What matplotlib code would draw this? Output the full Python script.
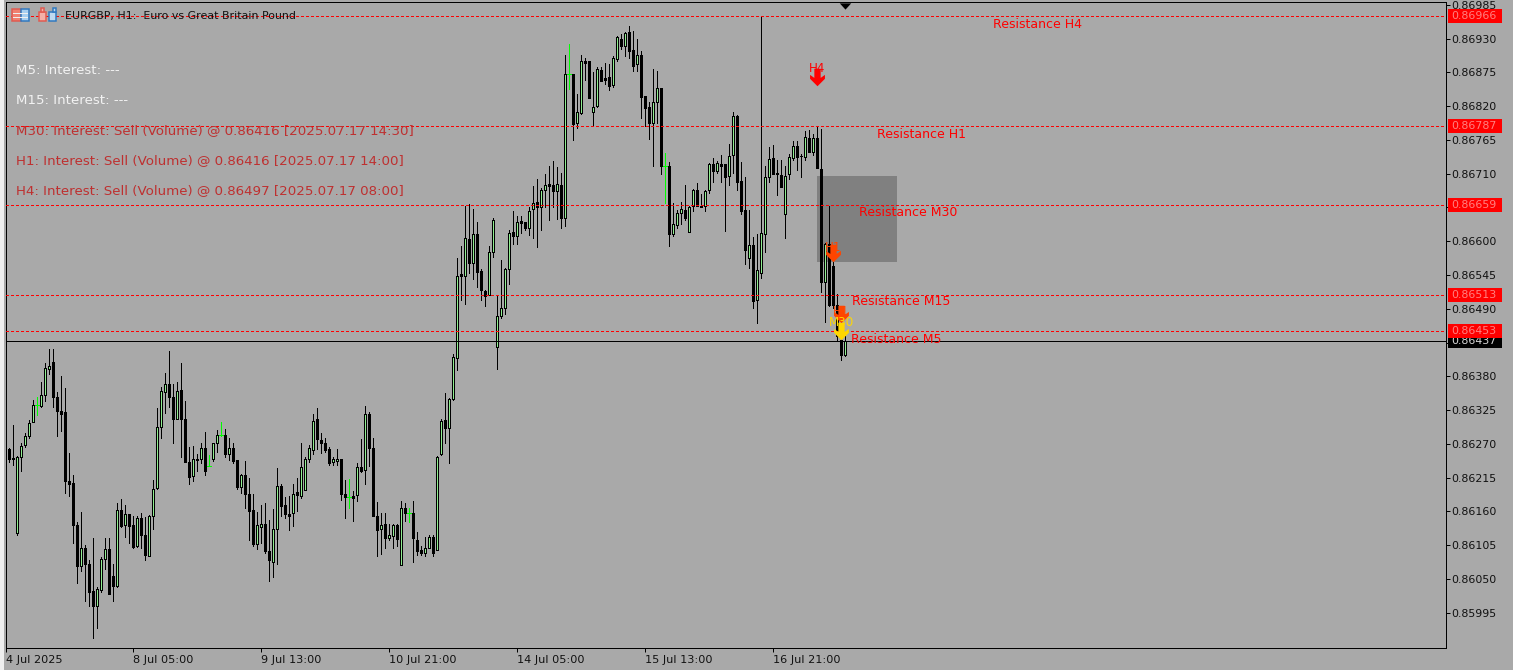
import matplotlib
matplotlib.use("Agg")
import matplotlib.pyplot as plt
from matplotlib.patches import Rectangle
from matplotlib.path import Path
from matplotlib.collections import LineCollection
from matplotlib.transforms import blended_transform_factory
import numpy as np

W, H = 1513, 670
BG = "#A9A9A9"

# OHLC in points (1e-5)
opens = [
 86262,86261,86247,86125,86248,86268,86283,86305,86333,86332,
 86350,86392,86403,86346,86324,86322,86209,86206,86137,86071,
 86101,86075,86030,86006,86032,86082,86098,86054,86038,86163,
 86137,86155,86137,86103,86150,86122,86088,86152,86198,86298,
 86355,86367,86346,86311,86357,86311,86241,86217,86245,86246,
 86264,86234,86246,86271,86284,86285,86253,86264,86243,86200,
 86220,86189,86162,86107,86135,86139,86095,86078,86131,86202,
 86170,86156,86158,86192,86185,86195,86246,86260,86310,86277,
 86272,86261,86241,86242,86245,86188,86183,86185,86186,86232,
 86227,86318,86264,86153,86132,86139,86116,86120,86137,86073,
 86165,86157,86158,86114,86097,86093,86101,86119,86097,86253,
 86309,86296,86343,86410,86546,86544,86603,86565,86611,86551,
 86519,86513,86583,86428,86479,86492,86554,86615,86609,86633,
 86631,86622,86653,86664,86655,86684,86693,86691,86682,86691,
 86637,86872,86872,86793,86808,86893,86893,86811,86820,86879,
 86866,86867,86854,86896,86930,86918,86941,86911,86888,86903,
 86836,86818,86793,86827,86849,86722,86723,86611,86626,86646,
 86651,86615,86657,86683,86658,86658,86683,86725,86714,86726,
 86725,86707,86740,86804,86698,86651,86572,86594,86504,86549,
 86612,86705,86735,86711,86708,86644,86709,86736,86755,86739,
 86737,86768,86746,86768,86718,86534,86595,86560,86496,86439,86415]
closes = [
 86261,86246,86246,86249,86267,86283,86304,86333,86333,86350,
 86393,86396,86347,86324,86319,86210,86205,86137,86071,86101,
 86075,86029,86006,86033,86082,86098,86026,86039,86163,86136,
 86155,86136,86102,86150,86122,86089,86152,86197,86298,86356,
 86368,86347,86311,86356,86310,86241,86216,86246,86244,86263,
 86226,86234,86271,86285,86284,86254,86264,86242,86200,86220,
 86189,86160,86107,86137,86140,86095,86080,86131,86202,86169,
 86156,86153,86189,86186,86233,86245,86263,86308,86278,86272,
 86260,86239,86245,86246,86189,86183,86183,86182,86232,86226,
 86318,86264,86153,86130,86138,86116,86122,86137,86115,86166,
 86158,86157,86117,86095,86092,86101,86119,86092,86249,86307,
 86296,86343,86411,86544,86543,86605,86565,86611,86550,86520,
 86510,86583,86634,86479,86491,86554,86614,86609,86632,86630,
 86621,86650,86663,86655,86684,86691,86690,86682,86693,86637,
 86872,86872,86791,86810,86893,86891,86834,86819,86880,86861,
 86863,86853,86898,86932,86918,86939,86910,86885,86903,86835,
 86817,86793,86827,86849,86722,86722,86611,86628,86646,86652,
 86638,86656,86683,86657,86656,86682,86726,86714,86727,86722,
 86705,86739,86804,86696,86650,86585,86594,86502,86553,86613,
 86704,86734,86709,86709,86689,86707,86737,86755,86737,86738,
 86770,86746,86768,86720,86534,86595,86496,86496,86445,86415,86437]
highs = [
 86263,86263,86301,86250,86272,86288,86309,86341,86346,86371,
 86402,86424,86424,86355,86381,86361,86255,86219,86142,86159,
 86105,86081,86116,86037,86086,86116,86117,86074,86173,86180,
 86170,86156,86152,86152,86158,86151,86154,86211,86328,86363,
 86385,86421,86368,86370,86402,86340,86265,86266,86254,86271,
 86289,86252,86272,86292,86306,86294,86279,86272,86243,86221,
 86242,86214,86188,86159,86170,86173,86146,86164,86230,86204,
 86184,86185,86204,86215,86271,86249,86268,86318,86328,86287,
 86280,86265,86249,86261,86245,86211,86212,86193,86239,86278,
 86331,86322,86279,86176,86157,86158,86140,86140,86139,86177,
 86173,86165,86177,86126,86103,86119,86122,86121,86250,86310,
 86352,86345,86416,86572,86592,86657,86661,86652,86631,86554,
 86520,86592,86637,86513,86569,86556,86618,86649,86641,86641,
 86632,86655,86690,86701,86686,86709,86723,86731,86721,86711,
 86903,86921,86873,86839,86903,86898,86893,86875,86883,86883,
 86890,86888,86901,86935,86937,86941,86950,86943,86929,86909,
 86836,86826,86880,86878,86849,86744,86729,86663,86651,86664,
 86691,86657,86685,86694,86677,86684,86727,86735,86730,86740,
 86725,86759,86810,86806,86729,86704,86651,86607,86612,86966,
 86723,86753,86757,86733,86733,86722,86742,86764,86764,86742,
 86779,86781,86775,86786,86783,86597,86658,86566,86514,86472,86445]
lows = [
 86261,86241,86235,86121,86225,86265,86280,86305,86317,86330,
 86340,86383,86330,86283,86291,86190,86185,86109,86044,86063,
 86014,86006,85954,85970,86029,86066,86026,86014,86037,86135,
 86119,86109,86101,86102,86101,86081,86088,86132,86197,86280,
 86321,86330,86272,86310,86249,86241,86205,86210,86226,86239,
 86220,86234,86242,86257,86282,86249,86243,86239,86197,86190,
 86166,86113,86103,86098,86109,86093,86047,86053,86075,86152,
 86150,86130,86136,86160,86182,86195,86241,86254,86261,86255,
 86256,86235,86236,86236,86178,86150,86166,86144,86177,86224,
 86205,86234,86153,86088,86090,86101,86113,86100,86103,86073,
 86144,86143,86078,86089,86089,86087,86100,86087,86097,86252,
 86272,86239,86341,86390,86504,86498,86549,86538,86526,86505,
 86494,86513,86575,86392,86475,86482,86530,86595,86596,86613,
 86619,86610,86606,86591,86618,86655,86634,86656,86636,86622,
 86625,86848,86765,86785,86807,86863,86833,86787,86819,86861,
 86856,86846,86851,86894,86913,86902,86898,86877,86877,86801,
 86788,86767,86722,86792,86709,86662,86593,86608,86621,86628,
 86635,86615,86650,86657,86655,86650,86679,86696,86711,86696,
 86616,86692,86711,86684,86645,86563,86556,86492,86466,86540,
 86583,86697,86709,86675,86689,86606,86701,86733,86716,86705,
 86733,86745,86741,86720,86518,86468,86494,86492,86438,86406,86413]

date_ticks = [0, 32, 64, 96, 128, 160, 192]
date_labels = ["4 Jul 2025", "8 Jul 05:00", "9 Jul 13:00", "10 Jul 21:00",
               "14 Jul 05:00", "15 Jul 13:00", "16 Jul 21:00"]
price_ticks = [0.86985, 0.86930, 0.86875, 0.86820, 0.86765, 0.86710, 0.86655, 0.86600,
               0.86545, 0.86490, 0.86435, 0.86380, 0.86325, 0.86270, 0.86215, 0.86160,
               0.86105, 0.86050, 0.85995]
hidden_ticks = [0.86655, 0.86435]
levels = [0.86966, 0.86787, 0.86659, 0.86513, 0.86453]
level_names = ["Resistance H4", "Resistance H1", "Resistance M30", "Resistance M15", "Resistance M5"]
level_label_k = [247.0, 217.9, 213.4, 211.7, 211.4]
level_label_price = [0.86953, 0.86774, 0.86646, 0.86501, 0.86440]
current_price = 0.86437

zone_k = [203, 223]
zone_price = [0.86566, 0.86706]

arrow_k = [203, 207, 209, 209]
arrow_price = [0.86868, 0.86580, 0.86482, 0.86454]
arrow_text_price = [0.86882, 0.86589, 0.86486, 0.86467]
arrow_text = ["H4", "H1", "H1", "M30"]
arrow_colors = ["#FF0000", "#FF4500", "#FF4500", "#FFD700"]

status_lines = ["M5: Interest: ---", "M15: Interest: ---",
                "M30: Interest: Sell (Volume) @ 0.86416 [2025.07.17 14:30]",
                "H1: Interest: Sell (Volume) @ 0.86416 [2025.07.17 14:00]",
                "H4: Interest: Sell (Volume) @ 0.86497 [2025.07.17 08:00]"]
status_colors = ["#F2F2F2", "#F2F2F2", "#BE3030", "#BE3030", "#BE3030"]
status_y = [70.5, 100.5, 130.5, 160.5, 190.5]

PX = 72 / 100
fig = plt.figure(figsize=(W / 100, H / 100), dpi=100, facecolor=BG)
ax = fig.add_axes([5.5 / W, (H - 647.5) / H, 1440 / W, 646 / H], facecolor=BG)
ax.set_xlim(0.05, 360.05)
ax.set_ylim(0.859383, 0.869904)

fig.add_artist(Rectangle((0, 0), 3.5 / W, 1, transform=fig.transFigure, fc="#EFEFEF", ec="none"))

o, c, h, l = [np.array(a) / 1e5 for a in (opens, closes, highs, lows)]
x = np.arange(len(o))
up = c > o
dn = c < o
dj = c == o

ax.add_patch(Rectangle((zone_k[0], zone_price[0]), zone_k[1] - zone_k[0],
                       zone_price[1] - zone_price[0], fc="#808080", ec="none", zorder=1))

segs = [[(k, l[k]), (k, h[k])] for k in x if not dj[k]]
ax.add_collection(LineCollection(segs, colors="black", linewidths=PX, zorder=2, capstyle="butt",
                                 antialiaseds=False))
ax.bar(x[up], (c - o)[up], bottom=o[up], width=0.5, fc="#90EE90", ec="black", lw=PX, zorder=3,
       antialiased=False)
ax.bar(x[dn], (c - o)[dn], bottom=o[dn], width=0.5, fc="black", ec="black", lw=PX, zorder=3,
       antialiased=False)
segs = [[(k, l[k]), (k, h[k])] for k in x if dj[k]] + \
       [[(k - 0.5, o[k]), (k + 0.5, o[k])] for k in x if dj[k]]
ax.add_collection(LineCollection(segs, colors="#00FF00", linewidths=PX, zorder=3, antialiaseds=False))

for lv in levels:
    ax.axhline(lv, color="#FF0000", lw=PX, dashes=(2.2, 2.8), zorder=5, antialiased=False)
ax.axhline(current_price, color="black", lw=PX, zorder=5, antialiased=False)

arrow = Path([(0.36, 1), (0.36, -0.05), (0.85, 0.3), (0.85, -0.15), (0, -1),
              (-0.85, -0.15), (-0.85, 0.3), (-0.36, -0.05), (-0.36, 1), (0.36, 1)], closed=True)
for k, p, tp, t, col in zip(arrow_k, arrow_price, arrow_text_price, arrow_text, arrow_colors):
    ax.plot([k], [p], marker=arrow, ms=12.6, mfc=col, mec="none", zorder=6, ls="none")
    ax.text(k, tp, t, color=col, fontsize=8.6, ha="center", va="center", zorder=7)

for name, k, p in zip(level_names, level_label_k, level_label_price):
    ax.text(k, p, name, color="#FF0000", fontsize=9.0, ha="left", va="center", zorder=7)

tri = Path([(-1, 0.55), (1, 0.55), (0, -0.55), (-1, 0.55)], closed=True)
ax.plot([210], [0.993], marker=tri, ms=8.2, mfc="black", mec="none", ls="none",
        transform=blended_transform_factory(ax.transData, ax.transAxes), clip_on=False, zorder=8)

for s in ax.spines.values():
    s.set_linewidth(PX)
    s.set_color("black")
ax.yaxis.tick_right()
ax.set_yticks(price_ticks)
ax.set_yticklabels(["" if v in hidden_ticks else f"{v:.5f}" for v in price_ticks],
                   fontsize=7.9, color="#111111")
ax.tick_params(axis="y", length=3, width=PX, pad=1.2, direction="out")
ax.set_xticks(date_ticks)
ax.set_xticklabels(date_labels, fontsize=8.1, color="#111111", ha="left")
ax.tick_params(axis="x", length=3, width=PX, pad=2.5, direction="out")

# price boxes on the right axis
tr = ax.get_yaxis_transform()
bx0, bw = 1 + 2.5 / 1440, 54 / 1440
half = 7 * (0.869904 - 0.859383) / 646
def box(price, fc, tc, z):
    ax.add_patch(Rectangle((bx0, price - half), bw, 2 * half, transform=tr, fc=fc, ec="none",
                           clip_on=False, zorder=z))
    ax.text(bx0 + 3 / 1440, price, f"{price:.5f}", transform=tr, color=tc, fontsize=7.9,
            ha="left", va="center", clip_on=False, zorder=z + 0.1)
box(current_price, "black", "#D8D8D8", 10)
for lv in levels:
    box(lv, "#FF0000", "#FF8080", 11)

# header text
fig.text(65 / W, 1 - 15.5 / H, "EURGBP, H1:  Euro vs Great Britain Pound", fontsize=7.9,
         color="#111111", ha="left", va="center", zorder=4)
for t, col, y in zip(status_lines, status_colors, status_y):
    fig.text(16 / W, 1 - y / H, t, color=col, fontsize=9.6, ha="left", va="center", zorder=4)

# window icons
def px_rect(x0, y0, w, hh, fc, ec="none"):
    fig.add_artist(Rectangle((x0 / W, 1 - (y0 + hh) / H), w / W, hh / H, transform=fig.transFigure,
                             fc=fc, ec=ec, lw=PX * 1.5))
px_rect(12, 9, 9, 12, "#F08070", "#E05A50")
px_rect(21, 9, 8, 12, "#A8CFF0", "#2F78C0")
for yy in (13, 17):
    px_rect(13, yy, 15, 1, "#F0F0F0")
px_rect(39, 12, 7, 9, "#F4B0A8", "#E05A50")
px_rect(41, 8, 3, 4, "#F4B0A8", "#E05A50")
px_rect(49, 12, 7, 9, "#BFD9F0", "#2F78C0")
px_rect(53, 8, 3, 4, "#BFD9F0", "#2F78C0")

fig.savefig("out.png", dpi=100, facecolor=BG)
